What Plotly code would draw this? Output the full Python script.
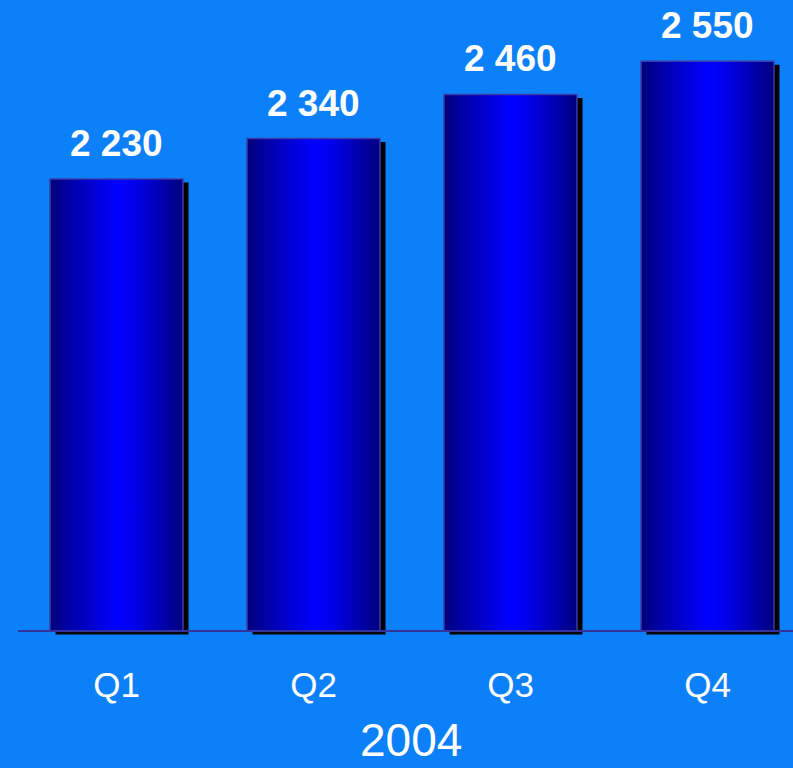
import plotly.graph_objects as go

categories = ["Q1", "Q2", "Q3", "Q4"]
values = [2230, 2340, 2460, 2550]
value_labels = ["2 230", "2 340", "2 460", "2 550"]
year_label = "2004"

BG = "#0C80F8"
BASE = 1000
PX_PER_UNIT = 0.3675
W, H = 793, 768
BASELINE_PX = 631
bar_w = 0.675
x_unit_px = 197.0
shadow_dx = 5.5 / x_unit_px
shadow_dy = 3.5 / PX_PER_UNIT

y_bottom = BASE - 8 / PX_PER_UNIT
y_top = BASE + BASELINE_PX / PX_PER_UNIT

fig = go.Figure()
grad = [[0, "#000078"], [0.12, "#0000A0"], [0.5, "#0000FF"], [0.62, "#0000F0"], [1, "#00007E"]]

for i, v in enumerate(values):
    x0, x1 = i - bar_w / 2, i + bar_w / 2
    # shadow
    fig.add_trace(go.Scatter(
        x=[x0 + shadow_dx, x1 + shadow_dx, x1 + shadow_dx, x0 + shadow_dx, x0 + shadow_dx],
        y=[BASE - shadow_dy, BASE - shadow_dy, v - shadow_dy, v - shadow_dy, BASE - shadow_dy],
        fill="toself", fillcolor="black", mode="lines", line=dict(width=0, color="black"),
        hoverinfo="skip", showlegend=False))

fig.add_shape(type="line", xref="x", yref="y", x0=-0.5, x1=3.6, y0=BASE, y1=BASE,
              line=dict(color="#3333A0", width=2), layer="above")

for i, v in enumerate(values):
    x0, x1 = i - bar_w / 2, i + bar_w / 2
    fig.add_trace(go.Scatter(
        x=[x0, x1, x1, x0, x0], y=[BASE, BASE, v, v, BASE],
        fill="toself", mode="lines",
        fillgradient=dict(type="horizontal", colorscale=grad),
        line=dict(width=1.5, color="#3A3AAC"),
        hoverinfo="skip", showlegend=False))
    fig.add_annotation(x=i, y=v, text=value_labels[i], showarrow=False,
                       yanchor="bottom", yshift=13,
                       font=dict(family="Liberation Sans", size=37, color="white", weight="bold"))

fig.add_annotation(xref="paper", yref="paper", x=0.507, y=0, yanchor="middle", yshift=-101,
                   text=year_label, showarrow=False,
                   font=dict(family="Liberation Sans", size=46, color="white"))

fig.update_layout(
    width=W, height=H,
    margin=dict(l=18, r=0, t=0, b=H - BASELINE_PX - 8, autoexpand=False),
    paper_bgcolor=BG, plot_bgcolor=BG,
    xaxis=dict(range=[-0.5, -0.5 + (W - 18) / x_unit_px], tickvals=list(range(4)),
               ticktext=categories, showgrid=False, zeroline=False, showline=False,
               tickfont=dict(family="Liberation Sans", size=35, color="white"),
               ticklabelstandoff=22, automargin=False),
    yaxis=dict(range=[y_bottom, y_top], visible=False, showgrid=False, zeroline=False),
)

fig.write_html("out.html", config={"displayModeBar": False}, post_script=(
    "document.body.style.margin='0';document.body.style.padding='0';"
    "document.body.style.overflow='hidden';document.body.style.background='" + BG + "';"))
